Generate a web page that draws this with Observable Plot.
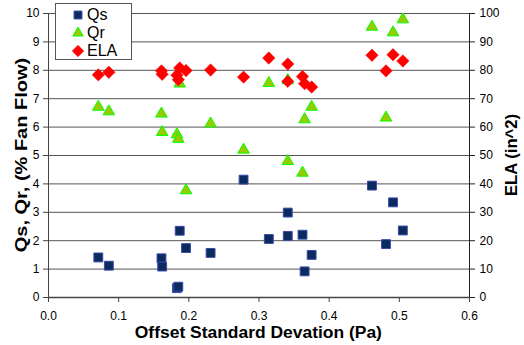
<!DOCTYPE html>
<html><head><meta charset="utf-8">
<script src="https://cdn.jsdelivr.net/npm/d3@7"></script>
<script src="https://cdn.jsdelivr.net/npm/@observablehq/plot@0.6"></script>
<style>
body{margin:0;background:#fff;font-family:"Liberation Sans",Arial,sans-serif}
#wrap{position:relative;width:524px;height:345px;overflow:hidden}
#wrap > svg{position:absolute;left:0;top:0}
.title{position:absolute;font-weight:bold;font-size:16px;white-space:nowrap;color:#000;line-height:1}
#legend{position:absolute;left:55px;top:3px;width:75px;height:55px;border:1px solid #555;background:#fff;font-size:16px;z-index:2}
.row{position:absolute;left:0;height:18px;display:flex;align-items:center;line-height:1}
.row svg{display:block;margin-left:16px;margin-right:3px}
</style></head><body>
<div id="wrap">
  <div id="legend"></div>
</div>
<script>
// offset standard deviation (Pa)
const xs  = [0.071, 0.086, 0.161, 0.162, 0.183, 0.185, 0.187, 0.196, 0.231, 0.278,
             0.314, 0.341, 0.341, 0.362, 0.365, 0.375, 0.461, 0.481, 0.491, 0.505];
// Qs (% fan flow)
const qs  = [1.41, 1.12, 1.38, 1.09, 0.33, 0.38, 2.35, 1.74, 1.57, 4.15,
             2.06, 2.99, 2.17, 2.21, 0.92, 1.50, 3.94, 1.88, 3.35, 2.36];
// Qr (% fan flow)
const qr  = [6.71, 6.55, 6.47, 5.82, 5.74, 5.58, 7.53, 3.77, 6.12, 5.20,
             7.55, 4.80, 7.65, 4.39, 6.27, 6.71, 9.53, 6.33, 9.33, 9.79];
// ELA (in^2)
const ela = [78.4, 79.3, 79.8, 78.6, 78.3, 76.7, 80.8, 79.9, 80.1, 77.6,
             84.3, 82.2, 76.1, 77.8, 75.3, 74.1, 85.3, 79.8, 85.5, 83.3];

const xTicks = [0, 0.1, 0.2, 0.3, 0.4, 0.5, 0.6];
const yTicks = [0, 1, 2, 3, 4, 5, 6, 7, 8, 9, 10];
const elaTicks = [0, 10, 20, 30, 40, 50, 60, 70, 80, 90, 100];
const seriesNames = ["Qs", "Qr", "ELA"];
const xTitle = "Offset Standard Devation (Pa)";
const yTitle = "Qs, Qr, (% Fan Flow)";
const y2Title = "ELA (in^2)";

const colors = {
  Qs: {fill: "#0b2a5e", stroke: "#3a4aa8", symbol: "square", r: 5},
  Qr: {fill: "#99cc00", stroke: "#00ff00", symbol: "triangle", r: 4.3},
  ELA: {fill: "#ff0000", stroke: "#ff0000", symbol: "diamond2", r: 5.6}
};

const data = xs.map((x, i) => ({x, qs: qs[i], qr: qr[i], ela: ela[i]}));
const elaScale = 10; // right axis 0-100 maps to left axis 0-10

const chart = Plot.plot({
  width: 524, height: 345,
  marginLeft: 48, marginRight: 55, marginTop: 13, marginBottom: 48,
  x: {domain: [0, 0.6]},
  y: {domain: [0, 10]},
  style: {fontFamily: "Liberation Sans, Arial, sans-serif", fontSize: "12px", color: "#000", background: "transparent"},
  marks: [
    Plot.gridY(yTicks, {stroke: "#555", strokeOpacity: 1}),
    Plot.ruleX([0], {stroke: "#444"}),
    Plot.ruleX([0.6], {stroke: "#222"}),
    Plot.ruleY([0], {stroke: "#444", strokeWidth: 1.5}),
    Plot.axisY(yTicks, {anchor: "left", tickSize: 5, tickPadding: 4, label: null, stroke: "#444"}),
    Plot.axisY(elaTicks.map(d => d / elaScale), {anchor: "right", tickSize: 5, tickPadding: 5, tickFormat: d => Math.round(d * elaScale), label: null, stroke: "#222"}),
    Plot.axisX(xTicks, {tickSize: 5, tickPadding: 9, tickFormat: d3.format(".1f"), label: null, stroke: "#444"}),
    Plot.dot(data, {x: "x", y: "qs", symbol: colors.Qs.symbol, r: colors.Qs.r, fill: colors.Qs.fill, stroke: colors.Qs.stroke, strokeWidth: 1}),
    Plot.dot(data, {x: "x", y: "qr", symbol: colors.Qr.symbol, r: colors.Qr.r, fill: colors.Qr.fill, stroke: colors.Qr.stroke, strokeWidth: 1}),
    Plot.dot(data, {x: "x", y: d => d.ela / elaScale, symbol: colors.ELA.symbol, r: colors.ELA.r, fill: colors.ELA.fill, stroke: colors.ELA.stroke, strokeWidth: 0.5})
  ]
});

const wrap = document.getElementById("wrap");
wrap.insertBefore(chart, wrap.firstChild);

function addTitle(text, cx, cy, rot, sx) {
  const el = document.createElement("div");
  el.className = "title";
  el.textContent = text;
  wrap.appendChild(el);
  const w = el.offsetWidth, h = el.offsetHeight;
  el.style.left = (cx - w / 2) + "px";
  el.style.top = (cy - h / 2) + "px";
  el.style.transform = "rotate(" + rot + "deg) scaleX(" + sx + ")";
}
addTitle(xTitle, 258, 333, 0, 1.09);
addTitle(yTitle, 22, 155, -90, 1.25);
addTitle(y2Title, 512, 155, -90, 1.04);

// legend
const legend = document.getElementById("legend");
seriesNames.forEach((name, i) => {
  const c = colors[name];
  const row = document.createElement("div");
  row.className = "row";
  row.style.top = (2 + i * 18) + "px";
  const s = d3.create("svg").attr("width", 12).attr("height", 12);
  const sym = {square: d3.symbolSquare, triangle: d3.symbolTriangle, diamond2: d3.symbolDiamond2}[c.symbol];
  s.append("path").attr("transform", "translate(6,6)")
    .attr("d", d3.symbol(sym, Math.PI * c.r * c.r * 0.8)())
    .attr("fill", c.fill).attr("stroke", c.stroke);
  row.appendChild(s.node());
  const t = document.createElement("span");
  t.textContent = name;
  row.appendChild(t);
  legend.appendChild(row);
});
</script>
</body></html>
